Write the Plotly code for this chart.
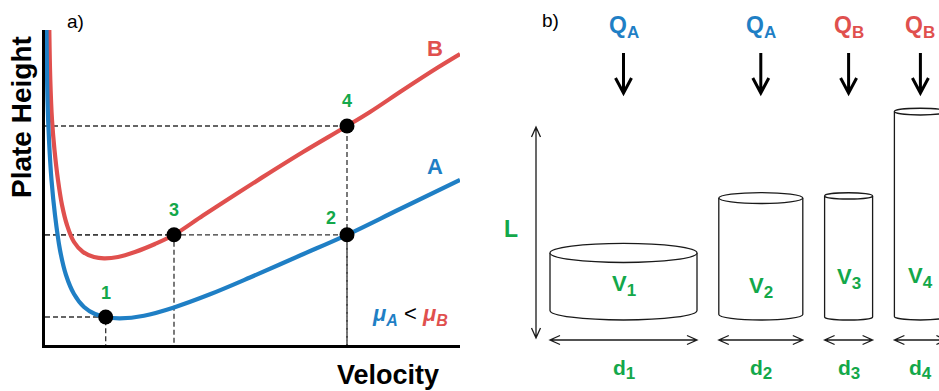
import plotly.graph_objects as go

# ---------------- panel a: plate height vs. velocity (arbitrary units) ----------------
velocity_a = [0.015, 0.025, 0.04, 0.065, 0.10, 0.15, 0.21, 0.29, 0.39, 0.50, 0.607,
              0.75, 0.99, 1.29, 1.65, 2.05, 2.55, 3.02, 3.55, 4.15]
height_a = [3.15, 2.45, 2.05, 1.65, 1.30, 0.95, 0.70, 0.51, 0.38, 0.31, 0.28,
            0.267, 0.293, 0.376, 0.507, 0.675, 0.895, 1.102, 1.36, 1.65]

velocity_b = [0.043, 0.053, 0.07, 0.095, 0.13, 0.17, 0.22, 0.29, 0.38, 0.49, 0.59,
              0.73, 0.90, 1.10, 1.29, 1.58, 1.92, 2.25, 2.58, 3.02, 3.25, 3.58, 3.92, 4.15]
height_b = [3.15, 2.65, 2.25, 1.95, 1.65, 1.40, 1.20, 1.03, 0.93, 0.88, 0.867,
            0.88, 0.93, 1.01, 1.102, 1.295, 1.515, 1.725, 1.93, 2.19, 2.33, 2.55, 2.77, 2.91]

point_labels = ["1", "2", "3", "4"]
point_velocity = [0.607, 3.02, 1.29, 3.02]
point_height = [0.28, 1.102, 1.102, 2.19]

# ---------------- panel b: columns ----------------
column_labels = ["1", "2", "3", "4"]
column_phase = ["A", "A", "B", "B"]
column_diameter = [14.7, 8.4, 4.8, 5.2]
column_length = [5.75, 11.65, 12.1, 20.5]

BLUE = "#1f7fc5"
RED = "#e0504e"
GREEN = "#13a84a"
INK = "#1a1a1a"
FONT = "Liberation Sans, Arial, sans-serif"
phase_color = {"A": BLUE, "B": RED}

fig = go.Figure()

# guide lines from each point to both axes
for u, h in zip(point_velocity, point_height):
    fig.add_trace(go.Scatter(x=[0, u, u], y=[h, h, 0], mode="lines",
                             line=dict(color="#333333", width=1.3, dash="5px,3px"),
                             hoverinfo="skip", showlegend=False))

fig.add_trace(go.Scatter(x=velocity_b, y=height_b, mode="lines",
                         line=dict(color=RED, width=4.2, shape="spline", smoothing=1.0),
                         showlegend=False))
fig.add_trace(go.Scatter(x=velocity_a, y=height_a, mode="lines",
                         line=dict(color=BLUE, width=4.2, shape="spline", smoothing=1.0),
                         showlegend=False))
fig.add_trace(go.Scatter(x=point_velocity, y=point_height, mode="markers",
                         marker=dict(color="black", size=15), showlegend=False))

# an empty trace registers the full-canvas schematic axes
fig.add_trace(go.Scatter(x=[], y=[], xaxis="x2", yaxis="y2", showlegend=False))

W, H = 939, 391
x0_px, x1_px, y_top_px, y_bot_px = 45, 460, 30, 345

axis_common = dict(showgrid=False, zeroline=False, showticklabels=False, ticks="")
fig.update_layout(
    width=W, height=H, autosize=False,
    margin=dict(l=0, r=0, t=0, b=0),
    paper_bgcolor="white", plot_bgcolor="rgba(0,0,0,0)",
    xaxis=dict(domain=[x0_px / W, x1_px / W], range=[0, 4.15],
               showline=True, linecolor="black", linewidth=2.6, **axis_common),
    yaxis=dict(domain=[1 - y_bot_px / H, 1 - y_top_px / H], range=[0, 3.15],
               showline=True, linecolor="black", linewidth=2.6, **axis_common),
    xaxis2=dict(domain=[0, 1], range=[0, W], anchor="y2", visible=False, **axis_common),
    yaxis2=dict(domain=[0, 1], range=[H, 0], anchor="x2", visible=False, **axis_common),
)

ann = []

def px_text(x, y, text, size, color="black", bold=False, angle=0):
    ann.append(dict(x=x, y=y, xref="x2", yref="y2", text=f"<b>{text}</b>" if bold else text,
                    showarrow=False, textangle=angle,
                    font=dict(family=FONT, size=size, color=color)))

def sub(s, size=17):
    return f"<sub><span style='font-size:{size}px'>{s}</span></sub>"

# point numbers
label_shift = {"1": (0, 24), "2": (-16, 17), "3": (0, 25), "4": (0, 25)}
for lab, u, h in zip(point_labels, point_velocity, point_height):
    dx, dy = label_shift[lab]
    ann.append(dict(x=u, y=h, xref="x", yref="y", text=f"<b>{lab}</b>", showarrow=False,
                    xshift=dx, yshift=dy, font=dict(family=FONT, size=18, color=GREEN)))

# curve names and mobility relation
ann.append(dict(x=3.90, y=2.97, xref="x", yref="y", text="<b>B</b>", showarrow=False,
                font=dict(family=FONT, size=22, color=RED)))
ann.append(dict(x=3.90, y=1.79, xref="x", yref="y", text="<b>A</b>", showarrow=False,
                font=dict(family=FONT, size=22, color=BLUE)))
ann.append(dict(x=3.65, y=0.30, xref="x", yref="y", showarrow=False,
                text=(f"<b><i><span style='color:{BLUE}'>μ{sub('A', 16)}</span></i></b>"
                      f" < <b><i><span style='color:{RED}'>μ{sub('B', 16)}</span></i></b>"),
                font=dict(family=FONT, size=22, color="black")))

px_text(388, 375, "Velocity", 27, bold=True)
px_text(21, 117, "Plate Height", 28, bold=True, angle=-90)
px_text(75, 21, "a)", 19)
px_text(550, 20, "b)", 19)

# ---------------- schematic columns ----------------
shapes = []
line_style = dict(color=INK, width=1.3)
SCALE = 10.0          # px per unit of diameter / length
LEFT0, GAP = 550, 21.8
BASE = 320            # lowest point of each column's bottom rim
K = 0.5523
v_label_y = [285, 287, 278, 277]

left = LEFT0
for i, (lab, ph, d, L) in enumerate(zip(column_labels, column_phase, column_diameter, column_length)):
    w = d * SCALE
    rx, ry = w / 2, 0.065 * w
    l, r = left, left + w
    cx = (l + r) / 2
    bot = BASE - ry
    top = bot - L * SCALE
    body = (f"M {l},{top} L {l},{bot} "
            f"C {l},{bot + K * ry} {cx - K * rx},{bot + ry} {cx},{bot + ry} "
            f"C {cx + K * rx},{bot + ry} {r},{bot + K * ry} {r},{bot} L {r},{top}")
    shapes.append(dict(type="path", path=body, xref="x2", yref="y2", line=line_style))
    shapes.append(dict(type="circle", x0=l, x1=r, y0=top - ry, y1=top + ry,
                       xref="x2", yref="y2", line=line_style, fillcolor="white"))

    # diameter arrow
    ya = 340
    shapes.append(dict(type="path", xref="x2", yref="y2", line=line_style,
                       path=(f"M {l},{ya} L {r},{ya} "
                             f"M {l + 10},{ya - 4.5} L {l},{ya} L {l + 10},{ya + 4.5} "
                             f"M {r - 10},{ya - 4.5} L {r},{ya} L {r - 10},{ya + 4.5}")))

    # flow arrow
    shapes.append(dict(type="path", xref="x2", yref="y2", line=dict(color="black", width=3),
                       path=(f"M {cx},53 L {cx},92 "
                             f"M {cx - 8},78 L {cx},93 L {cx + 8},78")))

    px_text(cx, 27, f"Q{sub(ph, 17)}", 23, color=phase_color[ph], bold=True)
    px_text(cx, v_label_y[i], f"V{sub(lab, 17)}", 22, color=GREEN, bold=True)
    px_text(cx, 369, f"d{sub(lab, 17)}", 21, color=GREEN, bold=True)

    left = r + GAP

# column-length arrow
shapes.append(dict(type="path", xref="x2", yref="y2", line=line_style,
                   path=("M 536,127 L 536,338 "
                         "M 531.5,137 L 536,127 L 540.5,137 "
                         "M 531.5,328 L 536,338 L 540.5,328")))
px_text(511, 229, "L", 23, color=GREEN, bold=True)

fig.update_layout(annotations=ann, shapes=shapes)
fig.write_html("out.html")
